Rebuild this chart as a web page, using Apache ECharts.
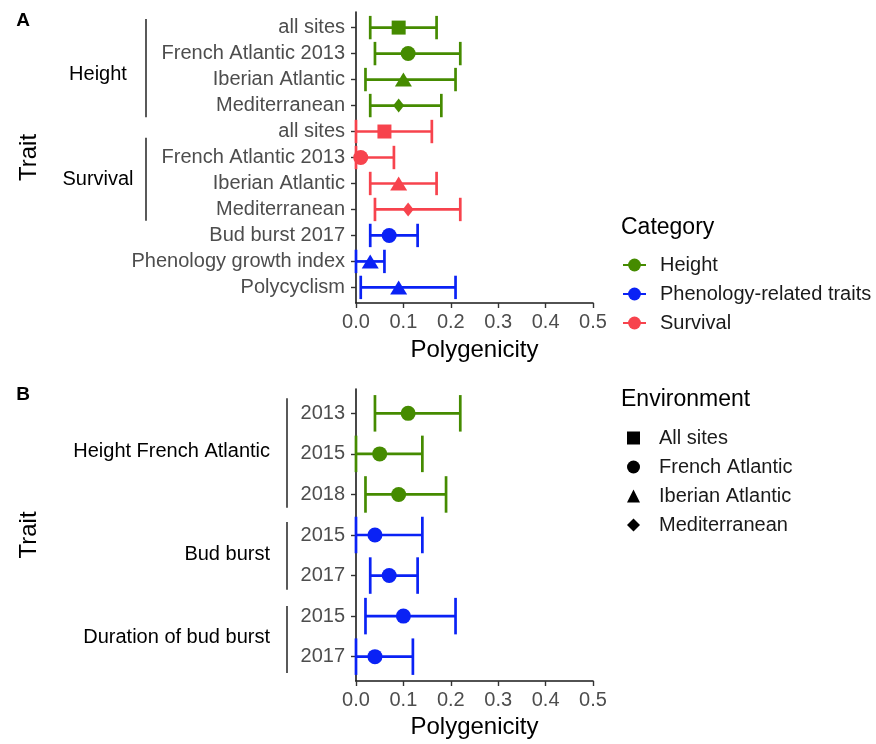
<!DOCTYPE html>
<html>
<head>
<meta charset="utf-8">
<title>Polygenicity by trait</title>
<script src="https://cdn.jsdelivr.net/npm/echarts@6/dist/echarts.min.js"></script>
<style>
  html, body { margin: 0; padding: 0; background: #ffffff; }
  #chart { width: 876px; height: 744px; }
</style>
</head>
<body>
<div id="chart"></div>
<script>
// ---- Panel A: polygenicity estimates with credible intervals ----
const traitsA = ['all sites', 'French Atlantic 2013', 'Iberian Atlantic', 'Mediterranean',
                 'all sites', 'French Atlantic 2013', 'Iberian Atlantic', 'Mediterranean',
                 'Bud burst 2017', 'Phenology growth index', 'Polycyclism'];
const categoryA = ['Height', 'Height', 'Height', 'Height',
                   'Survival', 'Survival', 'Survival', 'Survival',
                   'Phenology-related traits', 'Phenology-related traits', 'Phenology-related traits'];
const environmentA = ['All sites', 'French Atlantic', 'Iberian Atlantic', 'Mediterranean',
                      'All sites', 'French Atlantic', 'Iberian Atlantic', 'Mediterranean',
                      'French Atlantic', 'Iberian Atlantic', 'Iberian Atlantic'];
const estimateA = [0.09, 0.11, 0.10, 0.09, 0.06, 0.01, 0.09, 0.11, 0.07, 0.03, 0.09];
const lowerA    = [0.03, 0.04, 0.02, 0.03, 0.00, 0.00, 0.03, 0.04, 0.03, 0.00, 0.01];
const upperA    = [0.17, 0.22, 0.21, 0.18, 0.16, 0.08, 0.17, 0.22, 0.13, 0.06, 0.21];
// trait groups: label, bracket span and label row (in row units)
const groupNamesA = ['Height', 'Survival'];
const groupSpansA = [[-0.33, 3.45], [4.24, 7.43]];
const groupLabelRowA = [1.82, 5.84];

// ---- Panel B: per-year estimates ----
const traitsB = ['2013', '2015', '2018', '2015', '2017', '2015', '2017'];
const categoryB = ['Height', 'Height', 'Height',
                   'Phenology-related traits', 'Phenology-related traits',
                   'Phenology-related traits', 'Phenology-related traits'];
const environmentB = ['French Atlantic', 'French Atlantic', 'French Atlantic', 'French Atlantic',
                      'French Atlantic', 'French Atlantic', 'French Atlantic'];
const estimateB = [0.11, 0.05, 0.09, 0.04, 0.07, 0.10, 0.04];
const lowerB    = [0.04, 0.00, 0.02, 0.00, 0.03, 0.02, 0.00];
const upperB    = [0.22, 0.14, 0.19, 0.14, 0.13, 0.21, 0.12];
const groupNamesB = ['Height French Atlantic', 'Bud burst', 'Duration of bud burst'];
const groupSpansB = [[-0.37, 2.33], [2.68, 4.35], [4.75, 6.40]];
const groupLabelRowB = [0.95, 3.47, 5.53];

// x axis ticks
const xTicks = [0, 0.1, 0.2, 0.3, 0.4, 0.5];

// legend entries
const categories = ['Height', 'Phenology-related traits', 'Survival'];
const environments = ['All sites', 'French Atlantic', 'Iberian Atlantic', 'Mediterranean'];

// ---- styles ----
const FONT = "'Liberation Sans', Arial, Helvetica, sans-serif";
const COLORS = { 'Height': '#458B00', 'Phenology-related traits': '#0A22F5', 'Survival': '#F7434D' };
const SYMBOLS = {
  'All sites':        { symbol: 'rect',     size: 14 },
  'French Atlantic':  { symbol: 'circle',   size: 15 },
  'Iberian Atlantic': { symbol: 'triangle', size: [17, 14] },
  'Mediterranean':    { symbol: 'diamond',  size: [11, 14] }
};
const AXIS_COLOR = '#1a1a1a';
const LABEL_COLOR = '#4D4D4D';
const BAR_WIDTH = 2.7;

const chart = echarts.init(document.getElementById('chart'), null, { renderer: 'canvas' });

function xAxisFor(gridIndex, nameGap) {
  return {
    type: 'value', gridIndex, position: 'bottom',
    min: xTicks[0], max: xTicks[xTicks.length - 1], interval: 0.1,
    name: 'Polygenicity', nameLocation: 'middle', nameGap,
    nameTextStyle: { fontFamily: FONT, fontSize: 24, color: '#000' },
    axisLine: { show: true, onZero: false, lineStyle: { color: AXIS_COLOR, width: 1.6 } },
    axisTick: { show: true, length: 5, lineStyle: { color: '#333', width: 1.4 } },
    axisLabel: { fontFamily: FONT, fontSize: 20, color: LABEL_COLOR, margin: 9,
                 formatter: v => v.toFixed(1) },
    splitLine: { show: false }
  };
}

function yAxisFor(gridIndex, labels) {
  const idx = labels.map((_, i) => i);
  return {
    type: 'value', gridIndex, position: 'left', inverse: true,
    min: -0.6, max: labels.length - 1 + 0.6,
    axisLine: { show: true, onZero: false, lineStyle: { color: AXIS_COLOR, width: 1.6 } },
    axisTick: { show: true, length: 5, customValues: idx, lineStyle: { color: '#333', width: 1.4 } },
    axisLabel: { fontFamily: FONT, fontSize: 20, color: LABEL_COLOR, margin: 11,
                 customValues: idx, formatter: v => labels[Math.round(v)] },
    splitLine: { show: false }
  };
}

function errorBarSeries(gridIndex, lower, upper, cats) {
  return {
    type: 'custom', xAxisIndex: gridIndex, yAxisIndex: gridIndex, z: 2, silent: true,
    data: lower.map((lo, i) => [lo, upper[i], i]),
    encode: { x: [0, 1], y: 2 },
    renderItem(params, api) {
      const row = api.value(2);
      const a = api.coord([api.value(0), row]);
      const b = api.coord([api.value(1), row]);
      const half = Math.abs(api.size([0, 0.9])[1]) / 2;
      const style = { stroke: COLORS[cats[params.dataIndex]], lineWidth: BAR_WIDTH };
      return {
        type: 'group',
        children: [
          { type: 'line', shape: { x1: a[0], y1: a[1], x2: b[0], y2: b[1] }, style },
          { type: 'line', shape: { x1: a[0], y1: a[1] - half, x2: a[0], y2: a[1] + half }, style },
          { type: 'line', shape: { x1: b[0], y1: b[1] - half, x2: b[0], y2: b[1] + half }, style }
        ]
      };
    }
  };
}

function pointSeries(gridIndex, estimate, cats, envs) {
  return environments.map(env => ({
    name: env, type: 'scatter', xAxisIndex: gridIndex, yAxisIndex: gridIndex, z: 3,
    symbol: SYMBOLS[env].symbol, symbolSize: SYMBOLS[env].size,
    itemStyle: { color: '#000', opacity: 1 },
    data: estimate.map((v, i) => ({ v, i }))
      .filter(d => envs[d.i] === env)
      .map(d => ({ value: [d.v, d.i], itemStyle: { color: COLORS[cats[d.i]] } }))
  }));
}

// empty line series that give the category legend its coloured keys
const categoryKeySeries = categories.map(c => ({
  name: c, type: 'line', xAxisIndex: 0, yAxisIndex: 0, data: [],
  symbol: 'circle', symbolSize: 13,
  itemStyle: { color: COLORS[c] }, lineStyle: { color: COLORS[c], width: 2.7 }
}));

const option = {
  backgroundColor: '#ffffff',
  animation: false,
  textStyle: { fontFamily: FONT },
  grid: [
    { left: 356, top: 12, width: 237, height: 291 },
    { left: 356, top: 389, width: 237, height: 292 }
  ],
  xAxis: [xAxisFor(0, 35), xAxisFor(1, 34)],
  yAxis: [yAxisFor(0, traitsA), yAxisFor(1, traitsB)],
  legend: [
    {
      data: categories, orient: 'vertical', left: 622, top: 255, padding: 0,
      itemWidth: 23, itemHeight: 16, itemGap: 9, selectedMode: false,
      textStyle: { fontFamily: FONT, fontSize: 20, color: '#1a1a1a', padding: [0, 0, 0, 9] }
    },
    {
      data: environments, orient: 'vertical', left: 627, top: 428, padding: 0,
      itemWidth: 13, itemHeight: 13, itemGap: 9, selectedMode: false,
      textStyle: { fontFamily: FONT, fontSize: 20, color: '#1a1a1a', padding: [0, 0, 0, 14] }
    }
  ],
  series: [
    errorBarSeries(0, lowerA, upperA, categoryA),
    errorBarSeries(1, lowerB, upperB, categoryB),
    ...pointSeries(0, estimateA, categoryA, environmentA),
    ...pointSeries(1, estimateB, categoryB, environmentB),
    ...categoryKeySeries
  ]
};

chart.setOption(option);

// panel letters, axis titles, legend titles and trait-group brackets
function groupGraphics(axisIndex, names, spans, labelRows, lineX, labelX, align) {
  const out = [];
  names.forEach((name, i) => {
    const y1 = chart.convertToPixel({ yAxisIndex: axisIndex }, spans[i][0]);
    const y2 = chart.convertToPixel({ yAxisIndex: axisIndex }, spans[i][1]);
    const yl = chart.convertToPixel({ yAxisIndex: axisIndex }, labelRows[i]);
    out.push({ type: 'line', silent: true,
               shape: { x1: lineX, y1, x2: lineX, y2 },
               style: { stroke: '#000', lineWidth: 1.3 } });
    out.push({ type: 'text', silent: true, x: labelX, y: yl,
               style: { text: name, font: `20px ${FONT}`, fill: '#000',
                        align, verticalAlign: 'middle' } });
  });
  return out;
}

function plainText(text, x, y, font, extra) {
  return Object.assign({ type: 'text', silent: true, x, y,
    style: { text, font, fill: '#000', align: 'center', verticalAlign: 'middle' } }, extra || {});
}

const midA = chart.convertToPixel({ yAxisIndex: 0 }, (traitsA.length - 1) / 2);
const midB = chart.convertToPixel({ yAxisIndex: 1 }, (traitsB.length - 1) / 2);

chart.setOption({
  graphic: [
    plainText('A', 23, 21, `bold 19px ${FONT}`),
    plainText('B', 23, 395, `bold 19px ${FONT}`),
    plainText('Trait', 29, midA, `24px ${FONT}`, { rotation: Math.PI / 2 }),
    plainText('Trait', 29, midB, `24px ${FONT}`, { rotation: Math.PI / 2 }),
    { type: 'text', silent: true, x: 621, y: 228,
      style: { text: 'Category', font: `23px ${FONT}`, fill: '#000', align: 'left', verticalAlign: 'middle' } },
    { type: 'text', silent: true, x: 621, y: 400,
      style: { text: 'Environment', font: `23px ${FONT}`, fill: '#000', align: 'left', verticalAlign: 'middle' } },
    ...groupGraphics(0, groupNamesA, groupSpansA, groupLabelRowA, 146, 98, 'center'),
    ...groupGraphics(1, groupNamesB, groupSpansB, groupLabelRowB, 287, 270, 'right')
  ]
});
</script>
</body>
</html>
